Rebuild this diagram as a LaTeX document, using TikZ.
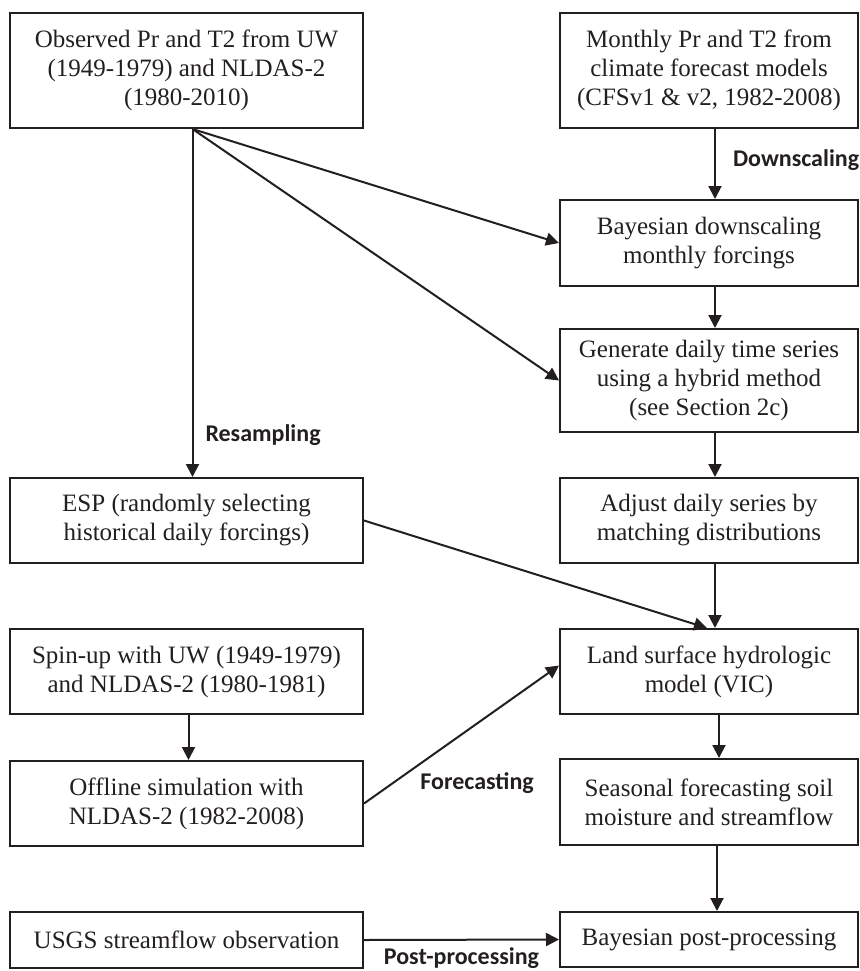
\documentclass[tikz,border=0pt]{standalone}
\usepackage{fontspec}
\setmainfont{Liberation Serif}
\newfontfamily\lblfont{Carlito}
\usetikzlibrary{arrows.meta}
\definecolor{ink}{HTML}{231F20}

\begin{document}
    \begin{tikzpicture}[
            x=0.5pt, y=-0.5pt,
            box/.style={
                rectangle, draw=ink, line width=1pt, align=center, inner sep=0pt,
                text=ink, font=\fontsize{12.5}{14.5}\selectfont
            },
            lbox/.style={box, minimum width=176.5pt},
            rbox/.style={box, minimum width=149pt},
            lbl/.style={inner sep=0pt, text=ink, font=\lblfont\bfseries\fontsize{12}{14}\selectfont},
            arr/.style={draw=ink, line width=1pt, -{Triangle[length=6.5pt,width=6.5pt]}}
        ]
        \useasboundingbox (0,0) rectangle (859,971);

        % left column
        \node[lbox, minimum height=57.5pt] (obs) at (186.5,70.5) {Observed Pr and T2 from UW\\(1949-1979) and NLDAS-2\\(1980-2010)};
        \node[lbox, minimum height=42.5pt] (esp) at (186.5,520.5) {ESP (randomly selecting\\historical daily forcings)};
        \node[lbox, minimum height=42.5pt] (spin) at (186.5,671.5) {Spin-up with UW (1949-1979)\\and NLDAS-2 (1980-1981)};
        \node[lbox, minimum height=42.5pt] (off) at (186.5,803.5) {Offline simulation with\\NLDAS-2 (1982-2008)};
        \node[lbox, minimum height=28pt] (usgs) at (186.5,940) {USGS streamflow observation};

        % right column
        \node[rbox, minimum height=57.5pt] (mon) at (709,70.5) {Monthly Pr and T2 from\\climate forecast models\\(CFSv1 \& v2, 1982-2008)};
        \node[rbox, minimum height=43pt] (bds) at (709,243) {Bayesian downscaling\\monthly forcings};
        \node[rbox, minimum height=51.5pt] (gen) at (709,380.5) {Generate daily time series\\using a hybrid method\\(see Section 2c)};
        \node[rbox, minimum height=42.5pt] (adj) at (709,520.5) {Adjust daily series by\\matching distributions};
        \node[rbox, minimum height=42.5pt] (land) at (709,671.5) {Land surface hydrologic\\model (VIC)};
        \node[rbox, minimum height=43pt] (sea) at (709,802) {Seasonal forecasting soil\\moisture and streamflow};
        \node[rbox, minimum height=27.5pt] (bpp) at (709,939.5) {Bayesian post-processing};

        % connectors
        \draw[arr] ([xshift=3pt]mon.south) -- ([xshift=3pt]bds.north)
            node[lbl, midway, right=8.5pt, yshift=2pt] {Downscaling};
        \draw[arr] ([xshift=3pt]bds.south) -- ([xshift=3pt]gen.north);
        \draw[arr] ([xshift=3pt]gen.south) -- ([xshift=3pt]adj.north);
        \draw[arr] ([xshift=3pt]adj.south) -- ([xshift=3pt]land.north);
        \draw[arr] ([xshift=5pt]land.south) -- ([xshift=5pt]sea.north);
        \draw[arr] ([xshift=4pt]sea.south) -- ([xshift=4pt]bpp.north);
        \draw[arr] ([xshift=3pt]obs.south) -- (bds.west);
        \draw[arr] ([xshift=3pt]obs.south) -- (gen.west);
        \draw[arr] ([xshift=3pt]obs.south) -- ([xshift=3pt]esp.north)
            node[lbl, pos=0.88, right=6pt] {Resampling};
        \draw[arr] ([xshift=1pt]spin.south) -- ([xshift=1pt]off.north);
        \draw[arr] (esp.east) -- ([xshift=-1pt]land.north);
        \draw[arr] (off.east) -- ([yshift=3pt]land.west)
            node[lbl, pos=0.58, yshift=-30pt] {Forecasting};
        \draw[arr] (usgs.east) -- (bpp.west)
            node[lbl, midway, anchor=base, yshift=-12.5pt] {Post-processing};

    \end{tikzpicture}
\end{document}
